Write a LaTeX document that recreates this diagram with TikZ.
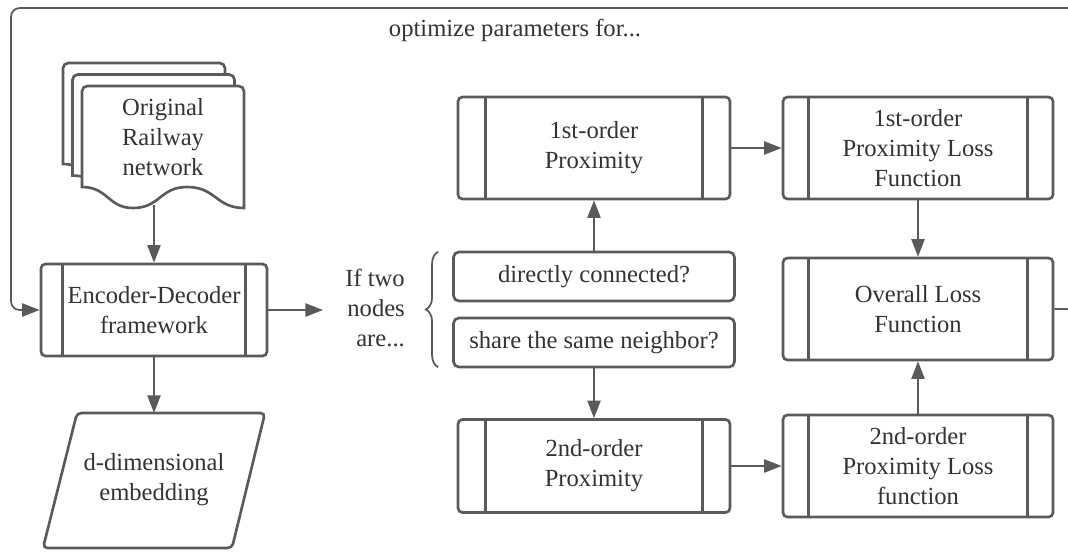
\documentclass[tikz,border=0pt]{standalone}
\usepackage{fontspec}
\setmainfont{Liberation Serif}
\usetikzlibrary{arrows.meta,calc,decorations.pathreplacing}

\definecolor{linegray}{HTML}{5A5A5A}
\definecolor{textgray}{HTML}{333333}

\begin{document}
\begin{tikzpicture}[x=0.02cm,y=-0.02cm,
  every node/.style={font=\fontsize{14}{17}\selectfont, text=textgray},
  procbox/.style={draw=linegray, line width=1.5pt, rounded corners=2.5pt, fill=white, align=center, inner sep=0pt},
  qbox/.style={draw=linegray, line width=1.5pt, rounded corners=3pt, fill=white, inner sep=0pt, minimum width=5.62cm, minimum height=0.98cm},
  procline/.style={draw=linegray, line width=1.5pt},
  link/.style={draw=linegray, line width=1pt, -{Triangle[length=10pt,width=7.5pt]}},
]

\useasboundingbox (0,0) rectangle (1068,552);

% stack of documents
\foreach \dx/\dy in {-19/-23, -9.5/-11.5, 0/0}
  \draw[procline, fill=white, shift={(\dx,\dy)}] (82,187) [rounded corners=3pt]-- (82,86) -- (244,86) [sharp corners]-- (244,208)
    .. controls (216,208) and (216,187) .. (187,187)
    .. controls (160,187) and (160,208) .. (133,208)
    .. controls (108,208) and (108,187) .. cycle;
\node[align=center] (doc) at (163,137) {Original\\Railway\\network};
\coordinate (docbot) at (154,205);

% boxes
\node[procbox, minimum width=4.52cm, minimum height=1.84cm] (enc) at (154,310) {Encoder-Decoder\\framework};
\node[procbox, minimum width=5.44cm, minimum height=2.04cm] (prox1) at (594,148) {1st-order\\Proximity};
\node[procbox, minimum width=5.44cm, minimum height=1.86cm] (prox2) at (594,466) {2nd-order\\Proximity};
\node[procbox, minimum width=5.4cm, minimum height=2.04cm] (loss1) at (918,148) {1st-order\\Proximity Loss\\Function};
\node[procbox, minimum width=5.4cm, minimum height=2.04cm] (lossall) at (918,309) {Overall Loss\\Function};
\node[procbox, minimum width=5.4cm, minimum height=2.04cm] (loss2) at (918,466) {2nd-order\\Proximity Loss\\function};

\foreach \n/\ins in {enc/0.455, prox1/0.57, prox2/0.57, loss1/0.54, lossall/0.54, loss2/0.54}
  \draw[procline] ([xshift=\ins cm]\n.north west) -- ([xshift=\ins cm]\n.south west)
                  ([xshift=-\ins cm]\n.north east) -- ([xshift=-\ins cm]\n.south east);

\node[qbox] (direct) at (594,276.5) {directly connected?};
\node[qbox] (share) at (594,342.5) {share the same neighbor?};

% embedding
\draw[procline, rounded corners=2.5pt] (77,413) -- (265,413) -- (232,548) -- (43,548) -- cycle;
\node[align=center] (emb) at (154,480) {d-dimensional\\embedding};
\coordinate (embtop) at (154,413);

% labels
\node (optlbl) at (515,30) {optimize parameters for...};
\node[align=right, anchor=east] (iftwo) at (411,308) {If two\\nodes\\are...};
\coordinate (ifin) at (323,310);

\draw[procline, line width=1pt, decorate, decoration={brace, amplitude=7pt}]
  ($(share.south west)+(-14,-1)$) -- ($(direct.north west)+(-14,1)$);

% connectors
\draw[link] (docbot) -- (docbot |- enc.north);
\draw[link] (enc) -- (embtop);
\draw[link] (enc.east) -- (ifin);
\draw[link] (direct) -- (prox1);
\draw[link] (share) -- (prox2);
\draw[link] (prox1) -- (loss1);
\draw[link] (prox2) -- (loss2);
\draw[link] (loss1) -- (lossall);
\draw[link] (loss2) -- (lossall);
\draw[link, rounded corners=5pt] (lossall.east) -- ++(40,0) |- (11,8) |- (enc.west);

\end{tikzpicture}
\end{document}
